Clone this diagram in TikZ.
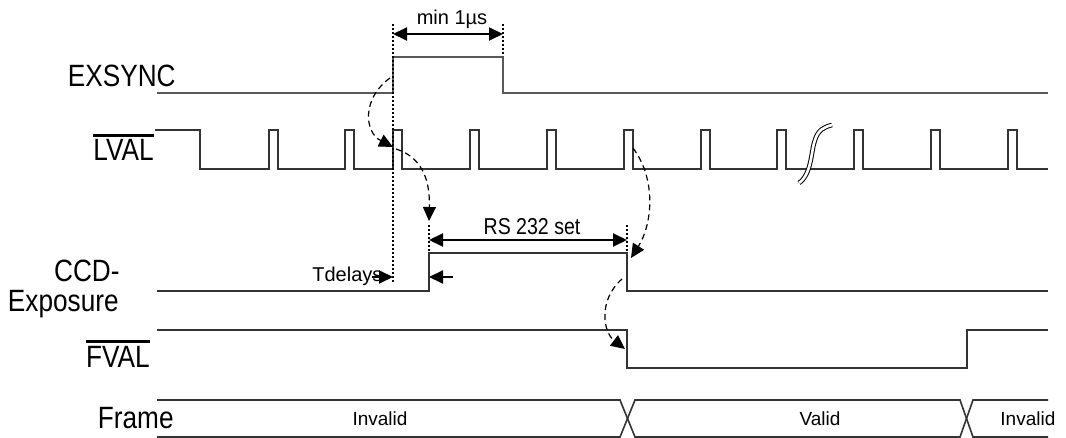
\documentclass[tikz,border=0pt]{standalone}
\usepackage{fontspec}
\setmainfont{Liberation Sans}
\newfontfamily\narrowsf[FakeStretch=0.85]{Liberation Sans}
\usetikzlibrary{arrows.meta}

\tikzset{
  wave/.style={line width=0.8pt, black!80},
  guide/.style={line width=1pt, dash pattern=on 1.2pt off 0.8pt},
  span/.style={line width=1pt, {Triangle[length=7pt,width=6.5pt]}-{Triangle[length=7pt,width=6.5pt]}},
  cause/.style={line width=0.6pt, dash pattern=on 3pt off 2pt, -{Triangle[length=7pt,width=6.5pt]}},
  signame/.style={font=\narrowsf\fontsize{15.4}{17}\selectfont, inner sep=0pt, anchor=base east},
  note/.style={font=\fontsize{9.5}{11}\selectfont, inner sep=0pt, anchor=base},
}

\begin{document}
\begin{tikzpicture}[x=0.5pt, y=-0.5pt]
    \useasboundingbox (0,0) rectangle (1066,438);
    % signal names
    \node[signame] (exsync) at (176,87) {EXSYNC};
    \node[signame] (lval) at (154,161) {LVAL};
    \node[signame] (ccd) at (120,282) {CCD-};
    \node[signame] (expo) at (119,312) {Exposure};
    \node[signame] (fval) at (150,367) {FVAL};
    \node[signame] (frame) at (174,429) {Frame};
    \draw[line width=1.2pt] ([yshift=2pt]lval.north west) -- ([yshift=2pt]lval.north east);
    \draw[line width=1.2pt] ([yshift=2pt]fval.north west) -- ([yshift=2pt]fval.north east);

    % waveforms
    \draw[wave, black!65] (157,93) -- (393,93) -- (393,57) -- (503,57) -- (503,93) -- (1048,93);
    \draw[wave] (155,130) -- (200,130) -- (200,169)
      \foreach \t in {269,345,393,470,547,624,701,777,854,931,1008} {
        -- (\t,169) -- (\t,130) -- (\t+9,130) -- (\t+9,169)
      } -- (1048,169);
    \draw[line width=0.5pt, double=white, double distance=1.3pt]
      (799,183) .. controls (812,174) and (811,150) .. (815,140)
      .. controls (818,130) and (824,127) .. (832,125);
    \draw[wave] (157,291) -- (429,291) -- (429,253) -- (627,253) -- (627,291) -- (1048,291);
    \draw[wave] (157,330) -- (627,330) -- (627,368) -- (967,368) -- (967,330) -- (1048,330);
    \draw[wave] (157,400) -- (620,400) -- (635,437) -- (960,437) -- (973,400) -- (1048,400);
    \draw[wave] (157,437) -- (620,437) -- (635,400) -- (960,400) -- (973,437) -- (1048,437);

    % frame states
    \node[note] (inv1) at (380,425) {Invalid};
    \node[note] (valid) at (820,425) {Valid};
    \node[note, anchor=base west] (inv2) at (1000,425) {Invalid};

    % timing marks
    \coordinate (minA) at (393,34);
    \coordinate (minB) at (503,34);
    \coordinate (rsA) at (429,240);
    \coordinate (rsB) at (627,240);
    \coordinate (tdA) at (372,277);
    \coordinate (tdB) at (393,277);
    \coordinate (tdC) at (453,277);
    \coordinate (tdD) at (429,277);
    \draw[guide] (393,24) -- (393,283);
    \draw[guide] (503,24) -- (503,56);
    \draw[guide] (429,225) -- (429,252);
    \draw[guide] (627,225) -- (627,252);
    \draw[span] (minA) -- (minB);
    \draw[span] (rsA) -- (rsB);
    \node[note, font=\fontsize{10}{12}\selectfont] (minlabel) at (452,25) {min 1µs};
    \node[note, font=\narrowsf\fontsize{11.5}{13}\selectfont] (rslabel) at (532,235) {RS 232 set};
    \node[note, font=\fontsize{10}{12}\selectfont, anchor=base west] (tdlabel) at (312,282) {Tdelays};
    \draw[line width=1pt, -{Triangle[length=7pt,width=6.5pt]}] (tdA) -- (tdB);
    \draw[line width=1pt, -{Triangle[length=7pt,width=6.5pt]}] (tdC) -- (tdD);

    % causes
    \coordinate (syncedge) at (390,78);
    \coordinate (lvalhit) at (393,147);
    \coordinate (lvalout) at (396,149);
    \coordinate (ccdup) at (429,221);
    \coordinate (lvalnext) at (633,148);
    \coordinate (ccddown) at (631,258);
    \coordinate (ccdout) at (622,279);
    \coordinate (fvaldown) at (625,349);
    \draw[cause] (syncedge) .. controls (362,98) and (364,132) .. (lvalhit);
    \draw[cause] (lvalout) .. controls (425,158) and (430,185) .. (ccdup);
    \draw[cause] (lvalnext) .. controls (657,180) and (652,225) .. (ccddown);
    \draw[cause] (ccdout) .. controls (598,300) and (603,332) .. (fvaldown);
\end{tikzpicture}
\end{document}
